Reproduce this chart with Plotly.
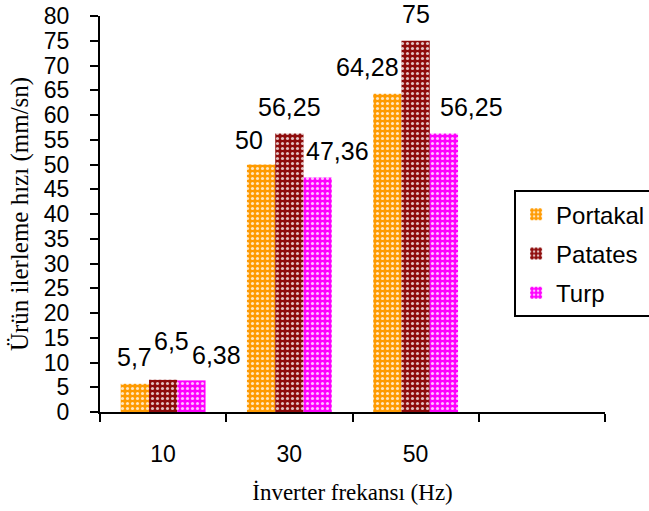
import plotly.graph_objects as go

# Data: product feed speed (mm/sn) by inverter frequency (Hz)
frequencies = ["10", "30", "50"]
portakal = [5.7, 50, 64.28]
patates = [6.5, 56.25, 75]
turp = [6.38, 47.36, 56.25]
series_names = ["Portakal", "Patates", "Turp"]
y_ticks = list(range(0, 81, 5))

series_values = [portakal, patates, turp]
colors = ["#FF9A00", "#8E0C0C", "#FF00FF"]

# Bar geometry in axis units (numeric x with one empty slot on the right)
bar_w = 0.224
offsets = [-1.5 * bar_w, -0.5 * bar_w, 0.5 * bar_w]
xs = list(range(len(frequencies)))

# Pixel nudges for value labels (per series, per group), as (dx, dy)
label_nudge = [
    [(0, 27), (-12, 25), (-20, 27)],
    [(8, 39), (0, 27), (0, 27)],
    [(25, 25), (20, 27), (28, 27)],
]

SANS = "Liberation Sans, Arial"
SERIF = "Liberation Serif, Times New Roman"

fig = go.Figure()
for j, (name, vals, col) in enumerate(zip(series_names, series_values, colors)):
    fig.add_trace(go.Bar(
        x=xs, y=vals, name=name, width=bar_w, offset=offsets[j],
        marker=dict(
            color=col, line=dict(width=0),
            pattern=dict(shape=".", fgcolor="white", fgopacity=0.75,
                         bgcolor=col, size=5, solidity=0.3),
        ),
        legendgroup=name,
    ))

def fmt(v):
    return f"{v:g}".replace(".", ",")

for j, vals in enumerate(series_values):
    for i, v in enumerate(vals):
        dx, dy = label_nudge[j][i]
        fig.add_annotation(
            x=xs[i] + offsets[j] + bar_w / 2, y=v, text=fmt(v),
            showarrow=False, xanchor="center", yanchor="middle",
            xshift=dx, yshift=dy,
            font=dict(family=SANS, size=25, color="black"),
        )

fig.update_layout(
    width=649, height=511,
    margin=dict(l=100, r=44, t=16, b=99, autoexpand=False),
    paper_bgcolor="white", plot_bgcolor="white",
    barmode="overlay",
    showlegend=True,
    legend=dict(
        x=0.82, y=0.56, xanchor="left", yanchor="top",
        bordercolor="black", borderwidth=2, bgcolor="white",
        font=dict(family=SANS, size=24, color="black"),
        traceorder="grouped", tracegroupgap=5, itemwidth=30,
    ),
    xaxis=dict(
        range=[-0.5, 3.5], tickmode="array", tickvals=xs, ticktext=frequencies,
        ticks="", showline=True, linecolor="black", linewidth=2,
        showgrid=False, zeroline=False,
        ticklabelstandoff=20,
        tickfont=dict(family=SANS, size=23, color="black"),
        minor=dict(tick0=-0.5, dtick=1, ticks="outside", ticklen=8,
                   tickwidth=2, tickcolor="black", showgrid=False),
        title=dict(text="İnverter frekansı (Hz)", standoff=18,
                   font=dict(family=SERIF, size=23, color="black")),
        automargin=False,
    ),
    yaxis=dict(
        range=[0, 80], tickmode="array", tickvals=y_ticks,
        ticks="outside", ticklen=8, tickwidth=2, tickcolor="black",
        showline=True, linecolor="black", linewidth=2,
        showgrid=False, zeroline=False,
        ticklabelstandoff=16,
        tickfont=dict(family=SANS, size=23, color="black"),
        title=dict(text="Ürün ilerleme hızı (mm/sn)", standoff=8,
                   font=dict(family=SERIF, size=25, color="black")),
        automargin=False,
    ),
)

fig.write_html("out.html")
